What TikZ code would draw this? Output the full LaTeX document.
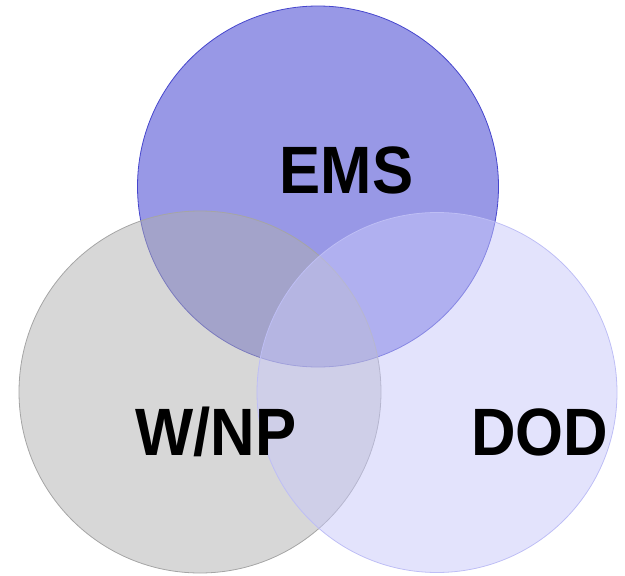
\documentclass[tikz,border=0pt]{standalone}
\usepackage{fontspec}
\setmainfont{Liberation Sans}
\definecolor{emsfill}{RGB}{152,152,230}
\definecolor{emsline}{RGB}{70,70,205}
\definecolor{wnpfill}{RGB}{175,175,175}
\definecolor{wnpline}{RGB}{165,165,165}
\definecolor{dodfill}{RGB}{200,200,250}
\definecolor{dodline}{RGB}{190,190,245}
\tikzset{
  setlabel/.style={anchor=base, inner sep=0pt, xscale=0.92,
    font=\bfseries\fontsize{67}{80}\selectfont}
}

\begin{document}
\begin{tikzpicture}[x=1pt,y=-1pt]

        \useasboundingbox (0,0) rectangle (625,576);

        \coordinate (E) at (318,186.5);
        \coordinate (W) at (200,392);
        \coordinate (D) at (437,392.5);

        \fill[emsfill] (E) circle (180.5);
        \draw[emsline, line width=0.8pt] (E) circle (180.5);
        \filldraw[fill=wnpfill, fill opacity=0.5, draw=wnpline, line width=0.8pt]
        (W) circle (181);
        \filldraw[fill=dodfill, fill opacity=0.5, draw=dodline, line width=0.8pt]
        (D) circle (180);

        \node[setlabel] (ems) at (346.5,193) {EMS};
        \node[setlabel] (wnp) at (216,455) {W/NP};
        \node[setlabel] (dod) at (539.5,455) {DOD};
    \end{tikzpicture}
\end{document}
